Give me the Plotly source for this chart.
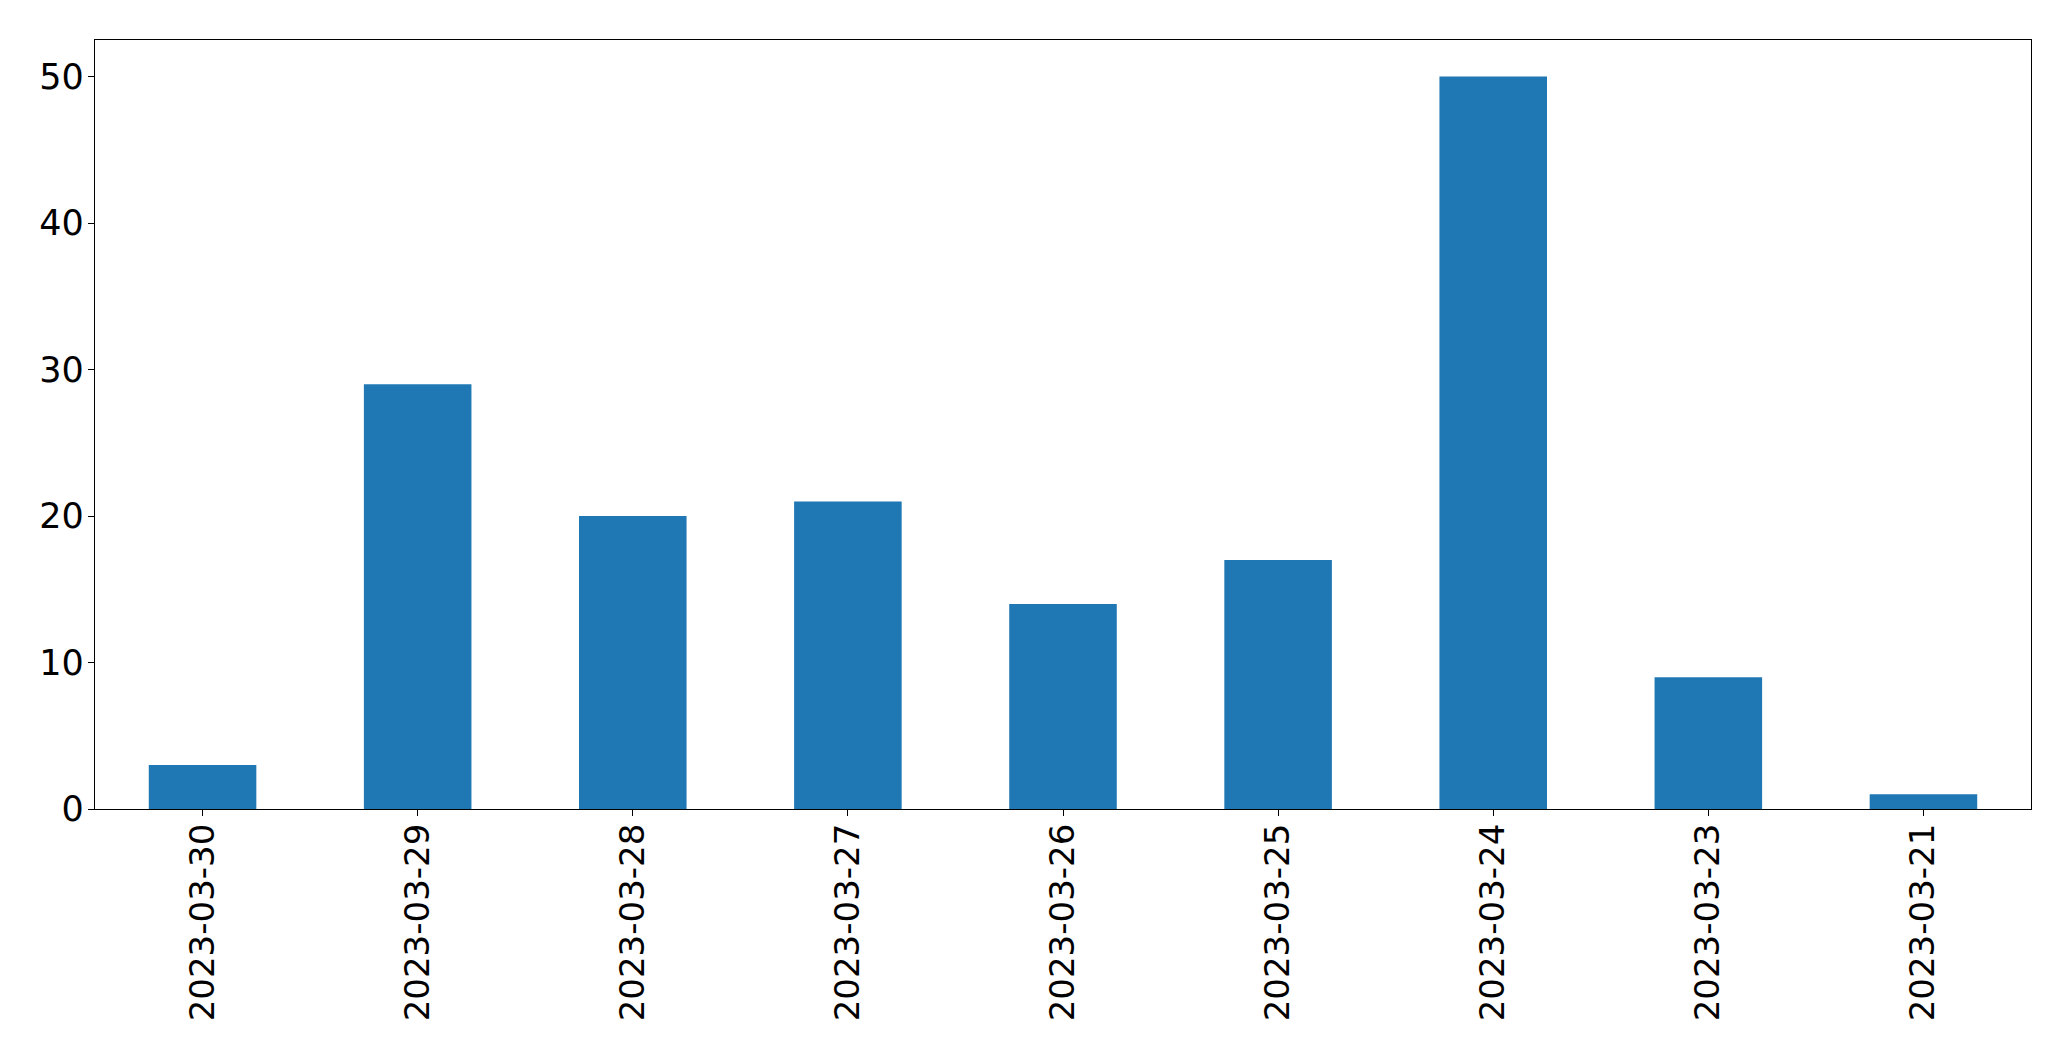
import plotly.graph_objects as go

dates = ["2023-03-30", "2023-03-29", "2023-03-28", "2023-03-27", "2023-03-26",
         "2023-03-25", "2023-03-24", "2023-03-23", "2023-03-21"]
counts = [3, 29, 20, 21, 14, 17, 50, 9, 1]
y_ticks = [0, 10, 20, 30, 40, 50]

fig = go.Figure(go.Bar(x=dates, y=counts, marker_color="#1f77b4", marker_line_width=0, width=0.5))

fig.update_layout(
    width=2055, height=1045,
    margin=dict(l=87, r=32, t=32, b=244, pad=0),
    plot_bgcolor="white", paper_bgcolor="white",
    font=dict(family="DejaVu Sans", size=34, color="black"),
    showlegend=False,
)
fig.update_xaxes(
    type="category", range=[-0.5, len(dates) - 0.5],
    tickangle=-90, ticks="outside", ticklen=6, tickwidth=1.2, tickcolor="black",
    showline=True, linecolor="black", linewidth=1.2, mirror=True,
    showgrid=False, zeroline=False, tickfont=dict(size=34), ticklabelstandoff=-6,
)
fig.update_yaxes(
    range=[0, 52.5], tickvals=y_ticks, ticks="outside", ticklen=6, tickwidth=1.2,
    tickcolor="black", showline=True, linecolor="black", linewidth=1.2, mirror=True,
    showgrid=False, zeroline=False, tickfont=dict(size=35), ticklabelstandoff=-3,
)
fig.write_html("out.html")
